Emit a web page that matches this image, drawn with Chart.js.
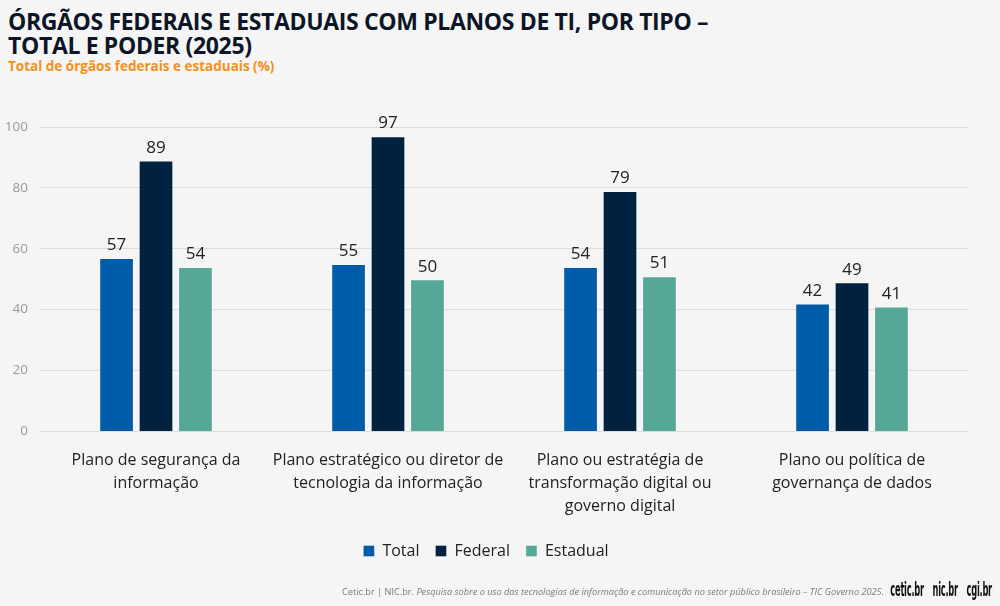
<!DOCTYPE html>
<html lang="pt-BR">
<head>
  <meta charset="UTF-8" />
  <title>Órgãos federais e estaduais com planos de TI</title>
  <style>
    body {
      margin: 0;
      width: 1000px;
      height: 606px;
      background-color: #f5f5f5;
      font-family: "Open Sans", "Noto Sans", sans-serif;
      position: relative;
      overflow: hidden;
    }
    #grafico {
      position: absolute;
      left: 0;
      top: 0;
    }
    .titulo {
      position: absolute;
      left: 8px;
      top: 9px;
      font-size: 23px;
      font-weight: 700;
      line-height: 24px;
      color: #0d1526;
      letter-spacing: -0.35px;
    }
    .subtitulo {
      position: absolute;
      left: 8px;
      top: 57px;
      font-size: 13.5px;
      font-weight: 700;
      color: #f39020;
    }
    .fonte {
      position: absolute;
      right: 116px;
      top: 585px;
      font-size: 9.2px;
      color: #7a7a7a;
    }
    .fonte em { font-style: italic; }
    .logos {
      position: absolute;
      right: 8px;
      top: 577px;
      font-family: "DejaVu Sans Condensed", "DejaVu Sans", sans-serif;
      font-weight: 700;
      font-size: 20px;
      color: #111;
      transform: scaleX(0.46);
      transform-origin: right center;
      white-space: nowrap;
      word-spacing: 13px;
      letter-spacing: -0.5px;
    }
  </style>
</head>
<body>
  <div class="titulo">ÓRGÃOS FEDERAIS E ESTADUAIS COM PLANOS DE TI, POR TIPO –<br>TOTAL E PODER (2025)</div>
  <div class="subtitulo">Total de órgãos federais e estaduais (%)</div>
  <canvas id="grafico" width="1000" height="606"></canvas>
  <div class="fonte">Cetic.br | NIC.br. <em>Pesquisa sobre o uso das tecnologias de informação e comunicação no setor público brasileiro – TIC Governo 2025.</em></div>
  <div class="logos">cetic.br nic.br cgi.br</div>

  <script src="https://cdn.jsdelivr.net/npm/chart.js"></script>
  <script>
    // dados
    const categorias = [
      ['Plano de segurança da', 'informação'],
      ['Plano estratégico ou diretor de', 'tecnologia da informação'],
      ['Plano ou estratégia de', 'transformação digital ou', 'governo digital'],
      ['Plano ou política de', 'governança de dados']
    ];
    const total = [57, 55, 54, 42];
    const federal = [89, 97, 79, 49];
    const estadual = [54, 50, 51, 41];
    const ticksY = [0, 20, 40, 60, 80, 100];

    // rótulos em cima das barras
    const rotulos = {
      id: 'rotulos',
      afterDatasetsDraw(chart) {
        const ctx = chart.ctx;
        ctx.save();
        ctx.font = '17px "Open Sans", sans-serif';
        ctx.fillStyle = '#222';
        ctx.textAlign = 'center';
        ctx.textBaseline = 'bottom';
        chart.data.datasets.forEach((ds, i) => {
          chart.getDatasetMeta(i).data.forEach((bar, j) => {
            ctx.fillText(ds.data[j], bar.x, bar.y - 4);
          });
        });
        ctx.restore();
      }
    };

    const ctx = document.getElementById('grafico').getContext('2d');
    new Chart(ctx, {
      type: 'bar',
      data: {
        labels: categorias,
        datasets: [
          { label: 'Total', data: total, backgroundColor: '#005ca9' },
          { label: 'Federal', data: federal, backgroundColor: '#00223f' },
          { label: 'Estadual', data: estadual, backgroundColor: '#56a896' }
        ]
      },
      options: {
        responsive: false,
        animation: false,
        layout: { padding: { top: 127, left: 4, right: 32, bottom: 37 } },
        datasets: {
          bar: {
            categoryPercentage: 0.51,
            barPercentage: 0.88,
            borderWidth: 1,
            borderColor: 'rgba(255,255,255,0.35)'
          }
        },
        scales: {
          x: {
            grid: { display: false },
            border: { display: false },
            ticks: {
              color: '#222',
              font: { size: 16, family: '"Open Sans", sans-serif', lineHeight: 1.45 },
              maxRotation: 0,
              autoSkip: false,
              padding: 9
            }
          },
          y: {
            min: 0,
            max: 100,
            afterBuildTicks(axis) {
              axis.ticks = ticksY.map(v => ({ value: v }));
            },
            afterFit(axis) {
              axis.width = 36;
            },
            grid: { color: '#dcdcdc', drawTicks: false },
            border: { display: false },
            ticks: {
              color: '#9a9a9a',
              font: { size: 13.5, family: '"Open Sans", sans-serif' },
              padding: 12
            }
          }
        },
        plugins: {
          legend: {
            position: 'bottom',
            labels: {
              color: '#222',
              font: { size: 16, family: '"Open Sans", sans-serif' },
              boxWidth: 11,
              boxHeight: 11,
              padding: 16
            }
          },
          tooltip: { enabled: false }
        }
      },
      plugins: [rotulos]
    });
  </script>
</body>
</html>
